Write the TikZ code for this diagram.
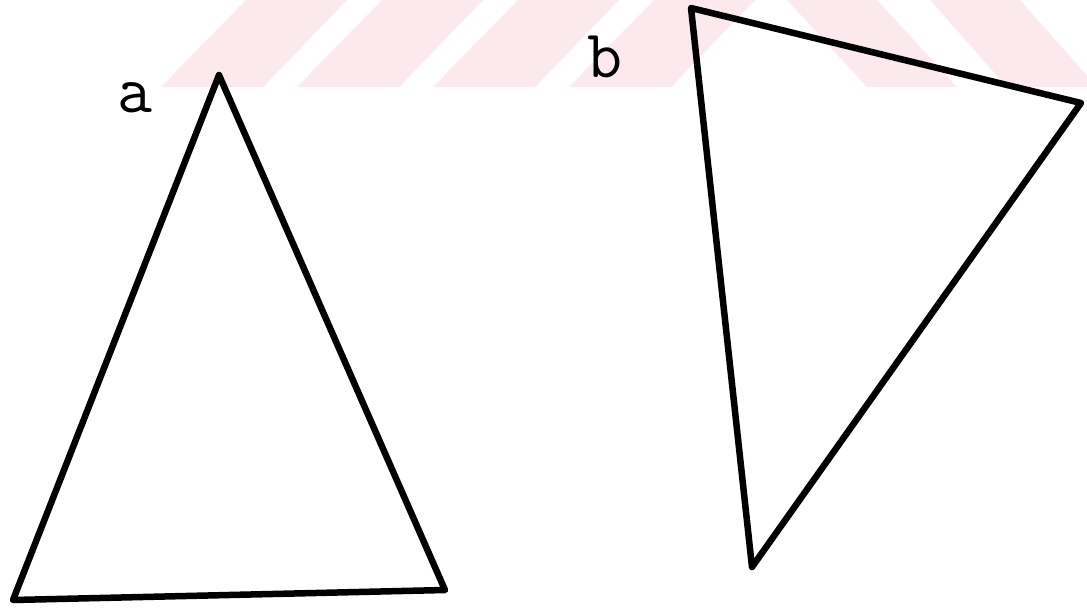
\documentclass[tikz,border=0pt]{standalone}
\usepackage{fontspec}
\definecolor{wmpink}{RGB}{252,233,237}
\tikzset{
  edge/.style={line width=6.5pt, line join=round, line cap=round, black},
  stripe/.style={fill=wmpink, draw=none},
  lbl/.style={font=\ttfamily\fontsize{68}{72}\selectfont, anchor=base, inner sep=0pt}
}
\begin{document}
\begin{tikzpicture}[x=1pt, y=-1pt]
\useasboundingbox (0,0) rectangle (1087,611);
% watermark stripes
\foreach \k in {0,1,2,3} {
  \fill[stripe] ({161+136*\k},87) -- ({263+136*\k},87) -- ({347+136*\k},0) -- ({246+136*\k},0) -- cycle;
}
\fill[stripe] (787,0) -- (877,0) -- (957,87) -- (867,87) -- cycle;
\fill[stripe] (930,0) -- (1020,0) -- (1097,87) -- (1007,87) -- cycle;
% triangle a
\coordinate (a1) at (219,75);
\coordinate (a2) at (13,600);
\coordinate (a3) at (445,590);
\draw[edge] (a1) -- (a2) -- (a3) -- cycle;
\node[lbl] (la) at (135,112) {a};
% triangle b
\coordinate (b1) at (691,8);
\coordinate (b2) at (1081,103);
\coordinate (b3) at (752,567);
\draw[edge] (b1) -- (b2) -- (b3) -- cycle;
\node[lbl] (lb) at (605,77) {b};
\end{tikzpicture}
\end{document}
